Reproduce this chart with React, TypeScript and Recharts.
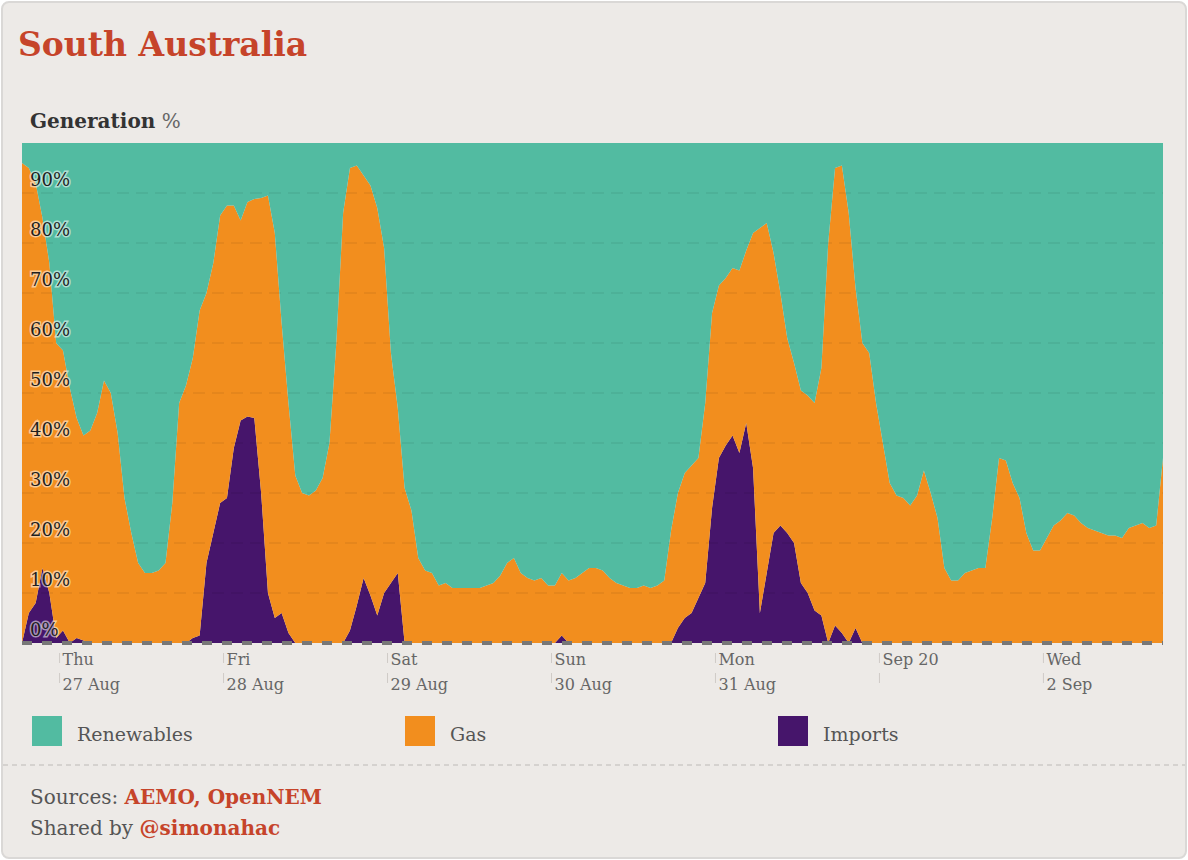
import React from 'react';
import { AreaChart, Area, XAxis, YAxis, ReferenceLine } from 'recharts';

// hours counted from Thu 27 Aug 00:00, one reading per hour
const START_HOUR = -5.5;

// share of generation, %
const IMPORTS = [
  0, 6, 8, 15, 10, 1, 2.5, 0, 1, 0.5,
  0, 0, 0, 0, 0, 0, 0, 0, 0, 0,
  0, 0, 0, 0, 0, 1, 1.5, 16, 22, 28,
  29, 39, 44.5, 45.3, 45, 30, 10, 5, 6, 2,
  0, 0, 0, 0, 0, 0, 0, 0, 2.5, 7.5,
  13, 9.5, 5.5, 10, 12, 14, 0, 0, 0, 0,
  0, 0, 0, 0, 0, 0, 0, 0, 0, 0,
  0, 0, 0, 0, 0, 0, 0, 0, 0, 1.5,
  0, 0, 0, 0, 0, 0, 0, 0, 0, 0,
  0, 0, 0, 0, 0, 0, 3, 5, 6, 9,
  12, 27, 37, 39.5, 41.5, 38, 44, 35, 6, 14,
  22, 23.5, 22, 20, 12, 10, 6.5, 5.5, 0, 3.5,
  2, 0, 3, 0, 0, 0, 0, 0, 0, 0,
  0, 0, 0, 0, 0, 0, 0, 0, 0, 0,
  0, 0, 0, 0, 0, 0, 0, 0, 0, 0,
  0, 0, 0, 0, 0, 0, 0, 0, 0, 0,
  0, 0, 0, 0, 0, 0, 0, 0,
];

const GAS = [
  96, 89, 84, 70, 66, 59, 56, 51, 44, 41,
  42.5, 46, 52.5, 50, 42, 29, 22, 16, 14, 14,
  14.5, 16, 28, 48, 51.5, 56, 65, 54, 54, 57.5,
  58.5, 48.5, 40, 42.9, 43.8, 59, 79.5, 77, 58, 46,
  33.5, 30, 29.5, 30.5, 33, 40, 60, 86, 92.5, 88,
  80.5, 82, 81.5, 69, 46, 33, 31, 26.5, 17, 14.5,
  14, 11.5, 12, 11, 11, 11, 11, 11, 11.5, 12,
  13.5, 16, 17, 14, 13, 12.5, 13, 11.5, 11.5, 12.5,
  12.5, 13, 14, 15, 15, 14.5, 13, 12, 11.5, 11,
  11, 11.5, 11, 11.5, 12.5, 22.5, 27, 29, 29.5, 28,
  36, 39, 34.5, 33.5, 33.5, 36.5, 34.5, 47, 77, 70,
  56, 46.5, 39, 36, 38.5, 39.5, 41.5, 49.5, 80, 91.5,
  93.5, 86, 68, 60, 58, 48, 40, 32, 29.5, 29,
  27.5, 29.5, 34.5, 30, 25, 15, 12.5, 12.5, 14, 14.5,
  15, 15, 25, 37, 36.5, 32, 29, 22, 18.5, 18.5,
  21, 23.5, 24.5, 26, 25.5, 24, 23, 22.5, 22, 21.5,
  21.5, 21, 23, 23.5, 24, 23, 23.5, 37,
];

const RENEWABLES = [
  4, 5, 8, 15, 24, 40, 41.5, 49, 55, 58.5,
  57.5, 54, 47.5, 50, 58, 71, 78, 84, 86, 86,
  85.5, 84, 72, 52, 48.5, 43, 33.5, 30, 24, 14.5,
  12.5, 12.5, 15.5, 11.8, 11.2, 11, 10.5, 18, 36, 52,
  66.5, 70, 70.5, 69.5, 67, 60, 40, 14, 5, 4.5,
  6.5, 8.5, 13, 21, 42, 53, 69, 73.5, 83, 85.5,
  86, 88.5, 88, 89, 89, 89, 89, 89, 88.5, 88,
  86.5, 84, 83, 86, 87, 87.5, 87, 88.5, 88.5, 86,
  87.5, 87, 86, 85, 85, 85.5, 87, 88, 88.5, 89,
  89, 88.5, 89, 88.5, 87.5, 77.5, 70, 66, 64.5, 63,
  52, 34, 28.5, 27, 25, 25.5, 21.5, 18, 17, 16,
  22, 30, 39, 44, 49.5, 50.5, 52, 45, 20, 5,
  4.5, 14, 29, 40, 42, 52, 60, 68, 70.5, 71,
  72.5, 70.5, 65.5, 70, 75, 85, 87.5, 87.5, 86, 85.5,
  85, 85, 75, 63, 63.5, 68, 71, 78, 81.5, 81.5,
  79, 76.5, 75.5, 74, 74.5, 76, 77, 77.5, 78, 78.5,
  78.5, 79, 77, 76.5, 76, 77, 76.5, 63,
];

const TICK_HOURS = [0, 24, 48, 72, 96, 120, 144];
const TICK_DAYS = ['Thu', 'Fri', 'Sat', 'Sun', 'Mon', 'Sep 20', 'Wed'];
const TICK_DATES = ['27 Aug', '28 Aug', '29 Aug', '30 Aug', '31 Aug', '', '2 Sep'];
const Y_TICKS = [0, 10, 20, 30, 40, 50, 60, 70, 80, 90];

const SERIES = [
  { key: 'renewables', name: 'Renewables', color: '#52BBA1' },
  { key: 'gas', name: 'Gas', color: '#F28E1E' },
  { key: 'imports', name: 'Imports', color: '#46156B' },
];

const FONT = '"DejaVu Serif", serif';
const RUST = '#C6442A';

const data = IMPORTS.map((v, i) => ({
  hour: START_HOUR + i,
  imports: v,
  gas: GAS[i],
  renewables: RENEWABLES[i],
}));

const DayTick = (props: any) => {
  const { x, y, payload } = props;
  const i = TICK_HOURS.indexOf(payload.value);
  return (
    <g fontFamily={FONT} fontSize={16} fill="#666">
      <line x1={x} x2={x} y1={y + 10} y2={y + 20} stroke="#cfcbc7" />
      <text x={x + 3} y={y + 22}>{TICK_DAYS[i]}</text>
      <line x1={x} x2={x} y1={y + 30} y2={y + 40} stroke="#cfcbc7" />
      <text x={x + 3} y={y + 47}>{TICK_DATES[i]}</text>
    </g>
  );
};

// y labels sit just above their gridline, over the areas
const pctLabel = (v: number) => (props: any) => {
  const vb = props.viewBox || {};
  return (
    <text
      x={vb.x + 8}
      y={vb.y - 7}
      fontFamily={FONT}
      fontSize={18}
      fill="#1e1e1e"
      stroke="rgba(255,255,255,0.55)"
      strokeWidth={3}
      paintOrder="stroke"
      textAnchor="start"
    >
      {v}%
    </text>
  );
};

export default function App() {
  return (
    <div style={{ position: 'absolute', left: 0, top: 0, width: 1188, height: 860, background: '#fff' }}>
      <div
        style={{
          position: 'absolute',
          left: 1,
          top: 1,
          width: 1186,
          height: 858,
          boxSizing: 'border-box',
          border: '2px solid #dad8d6',
          borderRadius: 8,
          background: '#EDEAE7',
        }}
      />
      <svg width={1188} height={860} style={{ position: 'absolute', left: 0, top: 0 }} fontFamily={FONT}>
        <text x={18} y={56} fontSize={33} fontWeight="bold" fill={RUST}>South Australia</text>
        <text x={30} y={128} fontSize={20}>
          <tspan fontWeight="bold" fill="#333">Generation</tspan>
          <tspan fill="#666"> %</tspan>
        </text>
        {SERIES.map((s, i) => (
          <g key={s.key}>
            <rect x={32 + i * 373} y={716} width={30} height={30} fill={s.color} />
            <text x={77 + i * 373} y={741} fontSize={19} fill="#555">{s.name}</text>
          </g>
        ))}
        <line x1={3} x2={1185} y1={765} y2={765} stroke="#cdcac7" strokeWidth={1.5} strokeDasharray="5 4" />
        <text x={30} y={804} fontSize={20} fill="#555">
          Sources: <tspan fontWeight="bold" fill={RUST}>AEMO, OpenNEM</tspan>
        </text>
        <text x={30} y={835} fontSize={20} fill="#555">
          Shared by <tspan fontWeight="bold" fill={RUST}>@simonahac</tspan>
        </text>
      </svg>
      <div style={{ position: 'absolute', left: 0, top: 0 }}>
        <AreaChart
          width={1188}
          height={720}
          data={data}
          margin={{ top: 143, right: 25, bottom: 27, left: 22 }}
        >
          <Area type="linear" dataKey="imports" name="Imports" stackId="gen" stroke="none" fill="#46156B" fillOpacity={1} isAnimationActive={false} dot={false} activeDot={false} />
          <Area type="linear" dataKey="gas" name="Gas" stackId="gen" stroke="none" fill="#F28E1E" fillOpacity={1} isAnimationActive={false} dot={false} activeDot={false} />
          <Area type="linear" dataKey="renewables" name="Renewables" stackId="gen" stroke="none" fill="#52BBA1" fillOpacity={1} isAnimationActive={false} dot={false} activeDot={false} />
          <XAxis
            dataKey="hour"
            type="number"
            domain={[START_HOUR, START_HOUR + IMPORTS.length - 1]}
            ticks={TICK_HOURS}
            height={50}
            tickLine={false}
            tickSize={0}
            tickMargin={0}
            axisLine={{ stroke: '#777', strokeWidth: 4, strokeDasharray: '10 10' }}
            tick={<DayTick />}
            interval={0}
          />
          <YAxis type="number" domain={[0, 100]} hide />
          {Y_TICKS.map((v) => (
            <ReferenceLine
              key={v}
              y={v}
              stroke={v === 0 ? 'none' : 'rgba(0,0,0,0.07)'}
              strokeWidth={1.5}
              strokeDasharray="12 7"
              label={pctLabel(v)}
            />
          ))}
        </AreaChart>
      </div>
    </div>
  );
}
